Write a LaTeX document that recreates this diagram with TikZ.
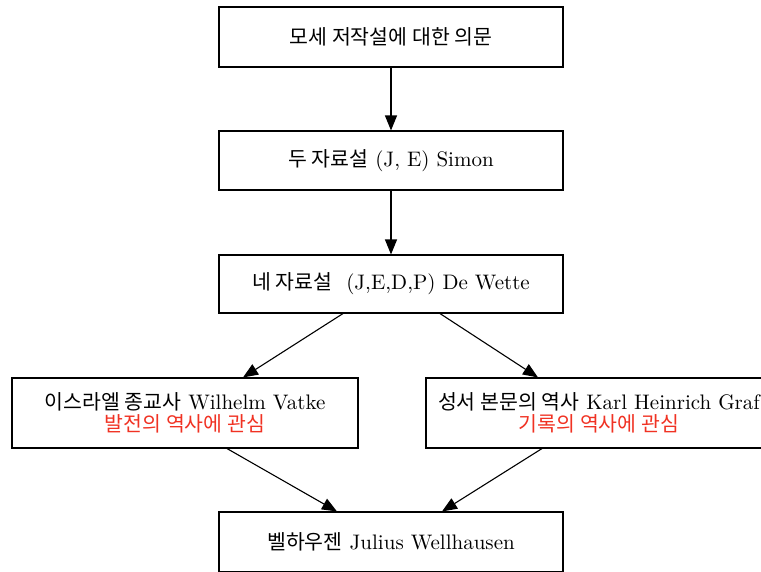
\documentclass[tikz,border=0pt]{standalone}
\usepackage{fontspec}
\usepackage{tikz}
\usetikzlibrary{arrows.meta,positioning}
\setmainfont{lmroman10-regular.otf}
\newfontfamily\krfont{Noto Sans CJK KR}
\newcommand{\kr}[1]{{\krfont\fontsize{20.5}{22}\selectfont #1}}
\definecolor{notered}{RGB}{240,50,35}

\begin{document}
\begin{tikzpicture}[x=1pt,y=-1pt,
        box/.style={draw,line width=1.1pt,minimum width=344pt,minimum height=60pt,
            inner sep=0pt,align=center,font=\fontsize{21}{22}\selectfont},
        arr/.style={-{Triangle[length=15pt,width=12pt]},line width=1.1pt}]
        \useasboundingbox (0,0) rectangle (761,571);
        % main line
        \node[box] (doubt) at (391,37) {\kr{모세 저작설에 대한 의문}};
        \node[box,minimum height=59pt] (two) at (391,160.5) {\kr{두 자료설} (J, E) Simon};
        \node[box,minimum height=58pt] (four) at (391,284) {\kr{네 자료설}\ \ (J,E,D,P) De Wette};
        % two branches
        \node[box,minimum width=346pt,minimum height=70pt] (vatke) at (185,413)
            {\kr{이스라엘 종교사} Wilhelm Vatke\\ \textcolor{notered}{\kr{발전의 역사에 관심}}};
        \node[box,minimum width=346pt,minimum height=70pt] (graf) at (599,413)
            {\kr{성서 본문의 역사} Karl Heinrich Graf\\ \textcolor{notered}{\kr{기록의 역사에 관심}}};
        \node[box] (well) at (391,542) {\kr{벨하우젠} Julius Wellhausen};
        % arrows
        \draw[arr] (doubt) -- (two);
        \draw[arr] (two) -- (four);
        \draw[arr] ([xshift=-48pt]four.south) -- ([xshift=58pt]vatke.north);
        \draw[arr] ([xshift=49pt]four.south) -- ([xshift=-61pt]graf.north);
        \draw[arr] ([xshift=42pt]vatke.south) -- ([xshift=-54pt]well.north);
        \draw[arr] ([xshift=-57pt]graf.south) -- ([xshift=51pt]well.north);
    \end{tikzpicture}
\end{document}
